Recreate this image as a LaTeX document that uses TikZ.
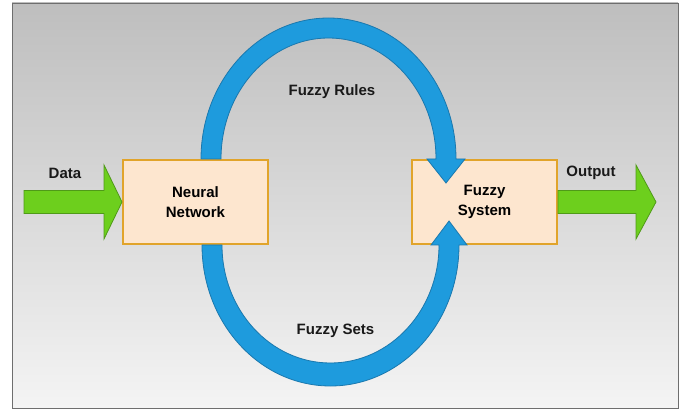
\documentclass[tikz,border=0pt]{standalone}
\usepackage{fontspec}
\setmainfont{Liberation Sans}
\usepackage{tikz}
\usetikzlibrary{positioning, calc}
\definecolor{loopblue}{HTML}{1E9BDD}
\definecolor{loopedge}{HTML}{1A78AE}
\definecolor{flowgreen}{HTML}{6DCF1D}
\definecolor{flowedge}{HTML}{4F9A18}
\definecolor{boxfill}{HTML}{FDE6CF}
\definecolor{boxedge}{HTML}{E1A42B}
\definecolor{bgtop}{HTML}{BEBEBE}
\definecolor{bgbottom}{HTML}{F4F4F4}
\definecolor{frame}{HTML}{6E6E6E}

\begin{document}
\begin{tikzpicture}[
    x=1pt, y=1pt,
    box/.style={draw=boxedge, fill=boxfill, line width=2pt, minimum width=145pt,
                minimum height=84pt, align=center, font=\fontsize{15}{20}\selectfont\bfseries},
    band/.style={fill=loopblue, draw=loopedge, line width=0.8pt},
    block/.style={fill=flowgreen, draw=flowedge, line width=0.8pt},
    flowlabel/.style={font=\fontsize{15}{18}\selectfont\bfseries, text=black!90}
  ]
    \path[fill=white] (0,0) rectangle (688,410);
    \useasboundingbox (0,0) rectangle (688,410);
    \shade[top color=bgtop, bottom color=bgbottom, draw=frame] (12,2) rectangle (678,407);

    \node[box] (nn) at (195.5,208) {Neural\\Network};
    \node[box, right=142pt of nn] (fs) {Fuzzy\\System};

    % Input and output block arrows
    \draw[block] (nn.west) -- ++(-18,37) -- ++(0,-25.5) -- ++(-80,0) -- ++(0,-23)
      -- ++(80,0) -- ++(0,-25.5) -- cycle;
    \draw[block] ([yshift=11.5pt]fs.east) -- ++(78,0) -- ++(0,25.5) -- ++(20,-37)
      -- ++(-20,-37) -- ++(0,25.5) -- ++(-78,0) -- cycle;

    \node[flowlabel] (datalbl) at (65,237) {Data};
    \node[flowlabel] (outlbl) at (591,237) {Output};

    % Loops between the two boxes
    \filldraw[band] ([xshift=5.5pt]nn.north)
      arc[start angle=180, end angle=0, x radius=127.5, y radius=141]
      -- ++(9,0) -- ++(-19,-24) -- ++(-19,24) -- ++(9,0)
      arc[start angle=0, end angle=180, x radius=107.5, y radius=121] -- cycle;
    \filldraw[band] ([xshift=6.5pt]nn.south)
      arc[start angle=180, end angle=360, x radius=128.5, y radius=141]
      -- ++(8,0) -- ++(-18,24) -- ++(-18,-24) -- ++(8,0)
      arc[start angle=360, end angle=180, x radius=108.5, y radius=118] -- cycle;

    \node[flowlabel] (rules) at (332,318) {Fuzzy Rules};
    \node[flowlabel] (sets) at (335.5,79) {Fuzzy Sets};
\end{tikzpicture}
\end{document}
